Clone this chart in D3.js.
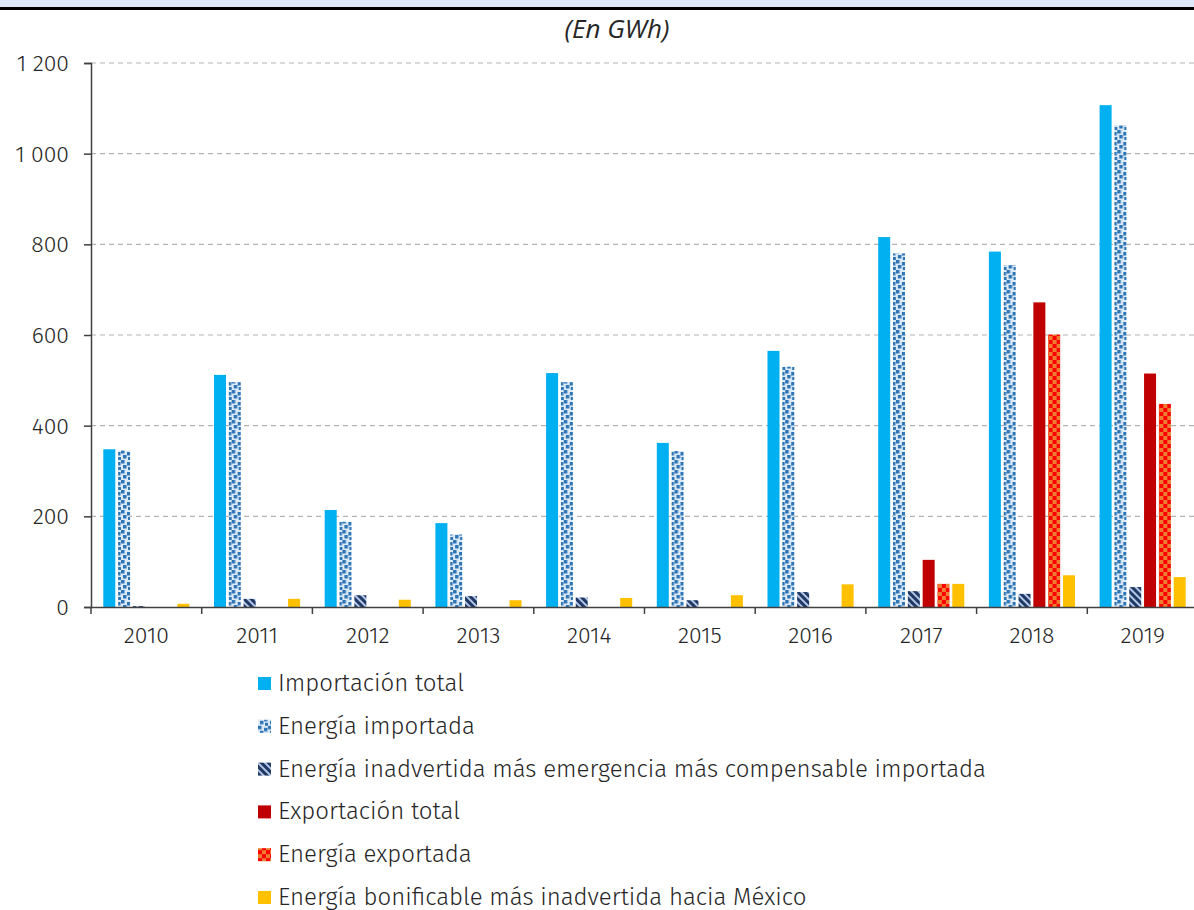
<!DOCTYPE html>
<html>
<head>
<meta charset="utf-8">
<script src="https://cdn.jsdelivr.net/npm/d3@7"></script>
<style>
  body { margin: 0; background: #fff; }
  svg text { font-family: "Fira Sans", "Noto Sans", sans-serif; font-weight: 300; fill: #262626; }
</style>
</head>
<body>
<div id="chart"></div>
<script>
// Chart values (GWh)
const years = ["2010", "2011", "2012", "2013", "2014", "2015", "2016", "2017", "2018", "2019"];
const importacionTotal = [348, 512, 214, 185, 516, 362, 565, 816, 784, 1107];
const energiaImportada = [345, 496, 188, 160, 496, 344, 530, 780, 754, 1062];
const energiaInadvertida = [2, 18, 26, 24, 21, 15, 33, 35, 29, 44];
const exportacionTotal = [0, 0, 0, 0, 0, 0, 0, 104, 672, 515];
const energiaExportada = [0, 0, 0, 0, 0, 0, 0, 51, 601, 448];
const energiaBonificable = [7, 18, 16, 15, 20, 26, 50, 51, 70, 66];
const seriesNames = [
    "Importación total",
    "Energía importada",
    "Energía inadvertida más emergencia más compensable importada",
    "Exportación total",
    "Energía exportada",
    "Energía bonificable más inadvertida hacia México"
];
const yTicks = [0, 200, 400, 600, 800, 1000, 1200];

const width = 1194;
const height = 910;
const margin = { top: 63, right: 0, bottom: 303, left: 91 };

const svg = d3.select("#chart")
    .append("svg")
    .attr("width", width)
    .attr("height", height);

// Fill patterns for the hatched series
const defs = svg.append("defs");

const pImp = defs.append("pattern")
    .attr("id", "p-imp")
    .attr("patternUnits", "userSpaceOnUse")
    .attr("width", 10).attr("height", 10);
pImp.append("rect").attr("width", 10).attr("height", 10).attr("fill", "#dce9f6");
[[0, 0], [6, 2], [2, 5], [7, 7]].forEach(function(p) {
    pImp.append("rect").attr("x", p[0]).attr("y", p[1])
        .attr("width", 3.5).attr("height", 3.5).attr("fill", "#2e75b6");
});

const pNavy = defs.append("pattern")
    .attr("id", "p-navy")
    .attr("patternUnits", "userSpaceOnUse")
    .attr("width", 5).attr("height", 5)
    .attr("patternTransform", "rotate(-45)");
pNavy.append("rect").attr("width", 5).attr("height", 5).attr("fill", "#b4c7e7");
pNavy.append("rect").attr("width", 3).attr("height", 5).attr("fill", "#1f3864");

const pChk = defs.append("pattern")
    .attr("id", "p-chk")
    .attr("patternUnits", "userSpaceOnUse")
    .attr("width", 8).attr("height", 8);
pChk.append("rect").attr("width", 8).attr("height", 8).attr("fill", "#ed7d31");
pChk.append("rect").attr("x", 4).attr("width", 4).attr("height", 4).attr("fill", "#ff0000");
pChk.append("rect").attr("y", 4).attr("width", 4).attr("height", 4).attr("fill", "#ff0000");

const fills = ["#00b0f0", "url(#p-imp)", "url(#p-navy)", "#c00000", "url(#p-chk)", "#ffc000"];
const allSeries = [importacionTotal, energiaImportada, energiaInadvertida,
    exportacionTotal, energiaExportada, energiaBonificable];

// Header band and rule
svg.append("rect").attr("x", 0).attr("y", 0).attr("width", width).attr("height", 7).attr("fill", "#dde9f6");
svg.append("rect").attr("x", 0).attr("y", 7).attr("width", width).attr("height", 3).attr("fill", "#000");

svg.append("text")
    .attr("x", 617)
    .attr("y", 38)
    .attr("text-anchor", "middle")
    .style("font-family", "'Open Sans', sans-serif")
    .style("font-weight", "400")
    .style("font-style", "italic")
    .style("font-size", "26px")
    .text("(En GWh)");

const xScale = d3.scaleBand()
    .domain(years)
    .range([margin.left, 1198])
    .paddingInner(0)
    .paddingOuter(0);

const xInner = d3.scaleBand()
    .domain(d3.range(6))
    .range([0, xScale.bandwidth()])
    .paddingInner(0.19)
    .paddingOuter(0.83);

const yScale = d3.scaleLinear()
    .domain([0, 1200])
    .range([height - margin.bottom, margin.top]);

// Dashed gridlines
svg.append("g")
    .selectAll("line")
    .data(yTicks.filter(function(d) { return d > 0; }))
    .join("line")
    .attr("x1", margin.left)
    .attr("x2", width)
    .attr("y1", function(d) { return yScale(d); })
    .attr("y2", function(d) { return yScale(d); })
    .attr("stroke", "#b3b3b3")
    .attr("stroke-width", 1.2)
    .attr("stroke-dasharray", "5,4");

// Bars
const rows = years.map(function(y, i) {
    return allSeries.map(function(s, k) { return { year: y, k: k, v: s[i] }; });
});
svg.append("g")
    .selectAll("g")
    .data(rows)
    .join("g")
    .attr("transform", function(d) { return `translate(${xScale(d[0].year)},0)`; })
    .selectAll("rect")
    .data(function(d) { return d.filter(function(e) { return e.v > 0; }); })
    .join("rect")
    .attr("x", function(d) { return xInner(d.k); })
    .attr("width", xInner.bandwidth())
    .attr("y", function(d) { return yScale(d.v); })
    .attr("height", function(d) { return yScale(0) - yScale(d.v); })
    .attr("fill", function(d) { return fills[d.k]; });

// Y axis
const yAxis = svg.append("g")
    .attr("transform", `translate(${margin.left},0)`)
    .call(d3.axisLeft(yScale)
        .tickValues(yTicks)
        .tickSize(7)
        .tickPadding(15)
        .tickFormat(function(d) { return d3.format(",")(d).replace(",", " "); }));
yAxis.selectAll("text").style("font-size", "23px");

// X axis with ticks between categories
const xAxis = svg.append("g")
    .attr("transform", `translate(0,${yScale(0)})`)
    .call(d3.axisBottom(xScale).tickSize(0).tickPadding(20));
xAxis.selectAll("text").style("font-size", "23px");
xAxis.selectAll(".tick").append("line")
    .attr("x1", -xScale.bandwidth() / 2)
    .attr("x2", -xScale.bandwidth() / 2)
    .attr("y2", 7)
    .attr("stroke", "#404040");

svg.selectAll(".domain").attr("stroke", "#404040").attr("stroke-width", 1.5);
svg.selectAll(".tick line").attr("stroke", "#404040").attr("stroke-width", 1.5);

// Legend
const legend = svg.append("g")
    .selectAll("g")
    .data(seriesNames)
    .join("g")
    .attr("transform", function(d, i) { return `translate(258,${683 + i * 42.8})`; });
legend.append("rect")
    .attr("y", -6)
    .attr("width", 13)
    .attr("height", 13)
    .attr("fill", function(d, i) { return fills[i]; });
legend.append("text")
    .attr("x", 20)
    .attr("y", 8)
    .style("font-size", "24px")
    .text(function(d) { return d; });
</script>
</body>
</html>
